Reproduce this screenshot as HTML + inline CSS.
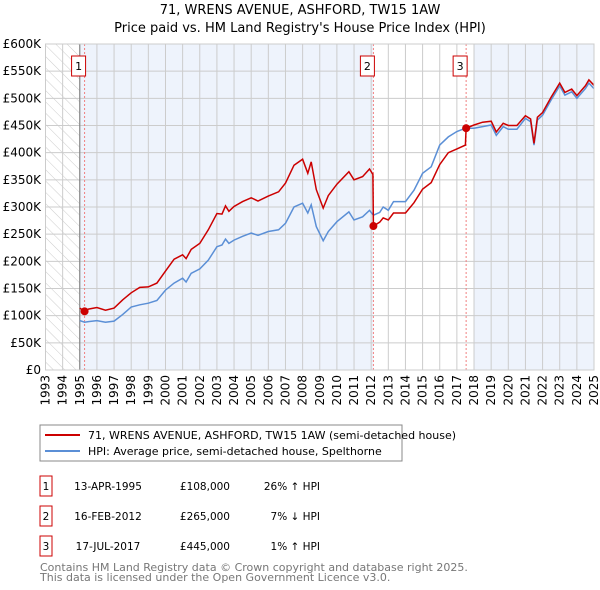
<!DOCTYPE html>
<html><head><meta charset="utf-8"><style>
body{margin:0;background:#fff;font-family:"Liberation Sans","DejaVu Sans",sans-serif;}
svg{display:block}
text{font-family:"DejaVu Sans","Liberation Sans",sans-serif;}
</style></head><body>
<svg id="c" width="600" height="590" viewBox="0 0 600 590" xmlns="http://www.w3.org/2000/svg">
<defs><pattern id="hatch" width="8" height="8" patternUnits="userSpaceOnUse" patternTransform="rotate(-45)"><line x1="0" y1="0" x2="0" y2="8" stroke="#ccc" stroke-width="1"/></pattern></defs>
<text x="300" y="14" text-anchor="middle" font-size="13">71, WRENS AVENUE, ASHFORD, TW15 1AW</text>
<text x="300" y="32" text-anchor="middle" font-size="13">Price paid vs. HM Land Registry's House Price Index (HPI)</text>
<g id="plot"></g>
<g>
<rect x="40" y="425" width="362" height="36" fill="#fff" stroke="#888"/>
<line x1="45" y1="435" x2="80" y2="435" stroke="#cc0000" stroke-width="2"/>
<text x="88" y="439" font-size="11">71, WRENS AVENUE, ASHFORD, TW15 1AW (semi-detached house)</text>
<line x1="45" y1="451" x2="80" y2="451" stroke="#5b8fd6" stroke-width="2"/>
<text x="88" y="455" font-size="11">HPI: Average price, semi-detached house, Spelthorne</text>
</g>
<g id="tbl" font-size="10.5"></g>
<text x="40" y="571" font-size="11" fill="#777">Contains HM Land Registry data © Crown copyright and database right 2025.</text>
<text x="40" y="581" font-size="11" fill="#777">This data is licensed under the Open Government Licence v3.0.</text>
</svg>
<script>
const years=[1995.0,1995.28,1995.5,1996.0,1996.5,1997.0,1997.5,1998.0,1998.5,1999.0,1999.5,2000.0,2000.5,2001.0,2001.2,2001.5,2002.0,2002.5,2003.0,2003.3,2003.5,2003.7,2004.0,2004.5,2005.0,2005.4,2006.0,2006.6,2007.0,2007.5,2008.0,2008.3,2008.5,2008.8,2009.2,2009.5,2010.0,2010.7,2011.0,2011.5,2011.9,2012.1,2012.13,2012.5,2012.7,2013.0,2013.3,2014.0,2014.5,2015.0,2015.5,2016.0,2016.5,2017.0,2017.5,2017.54,2018.0,2018.5,2019.0,2019.3,2019.7,2020.0,2020.5,2021.0,2021.3,2021.5,2021.7,2022.0,2022.5,2023.0,2023.3,2023.7,2024.0,2024.5,2024.7,2025.0];
const hpi=[91,88,89,91,88,90,102,116,120,123,128,147,160,169,162,178,186,202,227,230,241,233,239,246,252,248,255,258,270,300,307,289,304,264,238,255,273,291,276,282,294,286,285,290,300,294,310,310,331,362,374,414,429,439,445,445,445,448,451,432,448,443,443,463,457,414,460,469,497,523,506,512,500,518,528,518];
const price=[114,108,112,115,110,114,129,142,152,153,160,182,204,212,205,222,233,258,288,287,302,292,301,310,317,311,320,328,344,377,388,362,383,332,298,321,342,365,350,356,370,360,265,272,280,276,289,289,308,333,345,378,400,407,414,445,451,456,458,438,454,450,450,468,462,417,465,474,502,528,511,517,505,523,534,524];
const yTicks=[0,50,100,150,200,250,300,350,400,450,500,550,600];
const yLabels=["£0","£50K","£100K","£150K","£200K","£250K","£300K","£350K","£400K","£450K","£500K","£550K","£600K"];
const xTicks=[1993,1994,1995,1996,1997,1998,1999,2000,2001,2002,2003,2004,2005,2006,2007,2008,2009,2010,2011,2012,2013,2014,2015,2016,2017,2018,2019,2020,2021,2022,2023,2024,2025];
const saleYears=[1995.28,2012.13,2017.54];
const saleValues=[108,265,445];
const saleLabels=["1","2","3"];
const saleDates=["13-APR-1995","16-FEB-2012","17-JUL-2017"];
const salePrices=["£108,000","£265,000","£445,000"];
const saleDiffs=["26% ↑ HPI","7% ↓ HPI","1% ↑ HPI"];
const X0=45.5,X1=594,Y0=370,Y1=44;
const sx=y=>X0+(y-1993)/(2025-1993)*(X1-X0);
const sy=v=>Y0-v/600*(Y0-Y1);
const NS="http://www.w3.org/2000/svg";
const g=document.getElementById('plot');
function mk(tag,attrs,parent){const e=document.createElementNS(NS,tag);for(const k in attrs)e.setAttribute(k,attrs[k]);(parent||g).appendChild(e);return e;}
let r;
r=mk('rect',{x:sx(1995),y:Y1,width:sx(2012.13)-sx(1995),height:Y0-Y1,fill:'#eef3fc'});


r=mk('rect',{x:sx(2018.0),y:Y1,width:X1-sx(2018.0),height:Y0-Y1,fill:'#eef3fc'});


r=mk('rect',{x:X0,y:Y1,width:sx(1995)-X0,height:Y0-Y1,fill:'url(#hatch)'});


yTicks.forEach((v,i)=>{
  const l=mk('line',{x1:X0,x2:X1,y1:sy(v),y2:sy(v),stroke:'#ccc','stroke-width':1});
  
  
  const t=mk('text',{x:41,y:sy(v)+4,'text-anchor':'end','font-size':12});
  
  
  t.textContent=yLabels[i];
});
xTicks.forEach(y=>{
  const l=mk('line',{x1:sx(y),x2:sx(y),y1:Y1,y2:Y0,stroke:'#ccc','stroke-width':1});
  
  
  const t=mk('text',{x:0,y:0,'text-anchor':'end','font-size':12,transform:`translate(${sx(y)+4},${Y0+5}) rotate(-90)`});
  
  
  t.textContent=y;
});
r=mk('line',{x1:sx(1995),x2:sx(1995),y1:Y1,y2:Y0,stroke:'#777','stroke-width':1});


saleYears.forEach((y,i)=>{
  const l=mk('line',{x1:sx(y),x2:sx(y),y1:Y1,y2:Y0,stroke:'#f08080','stroke-width':1,'stroke-dasharray':'2,2'});
  
  
});
const path=arr=>arr.map((v,i)=>(i?'L':'M')+sx(years[i]).toFixed(1)+','+sy(v).toFixed(1)).join('');
r=mk('path',{d:path(hpi),fill:'none',stroke:'#5b8fd6','stroke-width':1.5});


r=mk('path',{d:path(price),fill:'none',stroke:'#cc0000','stroke-width':1.5});


saleYears.forEach((y,i)=>{
  const c=mk('circle',{cx:sx(y),cy:sy(saleValues[i]),r:4,fill:'#cc0000'});
  
  
  const b=mk('rect',{x:sx(y)-13,y:56,width:14,height:20,fill:'#fff',stroke:'#cc0000'});
  
  
  const t=mk('text',{x:sx(y)-6,y:70,'text-anchor':'middle','font-size':11});
  
  
  t.textContent=saleLabels[i];
});
r=mk('rect',{x:X0,y:Y1,width:X1-X0,height:Y0-Y1,fill:'none',stroke:'#ccc'});


const tb=document.getElementById('tbl');
saleLabels.forEach((s,i)=>{
  const yy=476+i*30;
  const b=mk('rect',{x:40,y:yy,width:12,height:20,fill:'#fff',stroke:'#cc0000'},tb);
  
  
  const cells=[[46,'middle',s],[108,'middle',saleDates[i]],[230,'end',salePrices[i]],[320,'end',saleDiffs[i]]];
  cells.forEach(([x,a,txt],j)=>{
    const t=mk('text',{x:x,y:yy+14,'text-anchor':a,'font-size':10.5},tb);
    
    
    t.textContent=txt;
  });
});
</script>
</body></html>
